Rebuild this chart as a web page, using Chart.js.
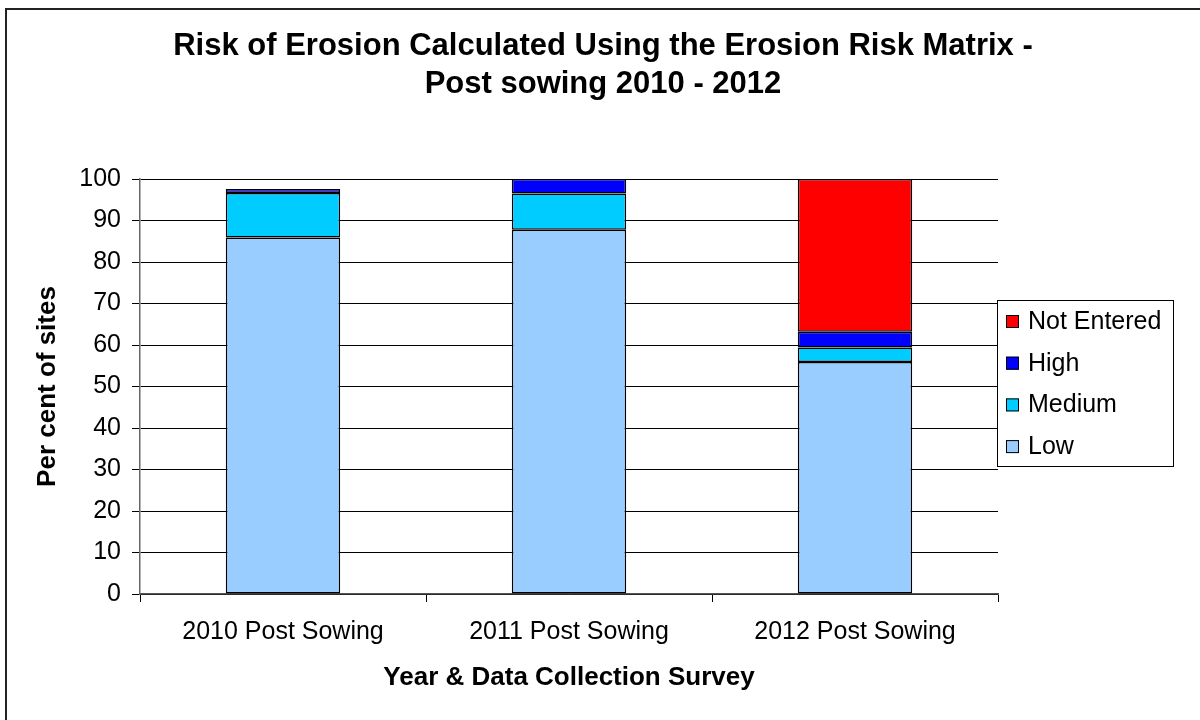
<!DOCTYPE html>
<html>
<head>
<meta charset="utf-8">
<style>
  html, body { margin: 0; padding: 0; background: #fff; }
  #wrap { width: 1200px; height: 720px; position: relative; }
</style>
<script src="https://cdn.jsdelivr.net/npm/chart.js@4"></script>
</head>
<body>
<div id="wrap"><canvas id="c" width="1200" height="720"></canvas></div>
<script>
// Survey categories
const categories = ['2010 Post Sowing', '2011 Post Sowing', '2012 Post Sowing'];

// Percent of sites in each erosion risk class
const lowValues = [85.9, 87.8, 55.9];
const mediumValues = [10.7, 8.7, 3.5];
const highValues = [1.0, 3.5, 3.8];
const notEnteredValues = [0, 0, 36.8];

const titleLines = ['Risk of Erosion Calculated Using the Erosion Risk Matrix -', 'Post sowing 2010 - 2012'];
const yTickValues = [0, 10, 20, 30, 40, 50, 60, 70, 80, 90, 100];

const FONT = 'Arial, "Liberation Sans", sans-serif';

const datasets = [
  { label: 'Low', data: lowValues, backgroundColor: '#99CCFF' },
  { label: 'Medium', data: mediumValues, backgroundColor: '#00CCFF' },
  { label: 'High', data: highValues, backgroundColor: '#0000FF' },
  { label: 'Not Entered', data: notEnteredValues, backgroundColor: '#FF0000' }
].map(d => Object.assign(d, {
  borderColor: '#000',
  borderWidth: 1.5,
  borderSkipped: false,
  barPercentage: 0.4,
  categoryPercentage: 1.0
}));

// Frame, title and boxed legend
const decorations = {
  id: 'decorations',
  beforeDraw(chart) {
    const ctx = chart.ctx;
    ctx.save();
    ctx.fillStyle = '#fff';
    ctx.fillRect(0, 0, chart.width, chart.height);
    ctx.strokeStyle = '#222';
    ctx.lineWidth = 2;
    ctx.strokeRect(6, 9, 1300, 800);
    ctx.restore();
  },
  afterDraw(chart) {
    const ctx = chart.ctx;
    ctx.save();
    // Title
    ctx.fillStyle = '#000';
    ctx.font = 'bold 31px ' + FONT;
    ctx.textAlign = 'center';
    ctx.textBaseline = 'middle';
    titleLines.forEach((line, i) => ctx.fillText(line, 603, 46 + i * 38));

    // Legend box
    const bx = 997, by = 300, bw = 176, bh = 166;
    ctx.fillStyle = '#fff';
    ctx.fillRect(bx, by, bw, bh);
    ctx.strokeStyle = '#000';
    ctx.lineWidth = 1;
    ctx.strokeRect(bx + 0.5, by + 0.5, bw, bh);
    ctx.font = '25px ' + FONT;
    ctx.textAlign = 'left';
    const items = chart.data.datasets.slice().reverse();
    items.forEach((ds, i) => {
      const cy = by + 21 + i * 41.7;
      ctx.fillStyle = ds.backgroundColor;
      ctx.fillRect(bx + 9, cy - 6, 13, 13);
      ctx.strokeStyle = '#000';
      ctx.strokeRect(bx + 9.5, cy - 5.5, 12, 12);
      ctx.fillStyle = '#000';
      ctx.fillText(ds.label, bx + 31, cy + 1);
    });
    ctx.restore();
  }
};

new Chart(document.getElementById('c'), {
  type: 'bar',
  data: { labels: categories, datasets },
  plugins: [decorations],
  options: {
    responsive: false,
    animation: false,
    layout: { padding: { top: 179, right: 202, left: 0, bottom: 0 } },
    plugins: {
      legend: { display: false },
      title: { display: false },
      tooltip: { enabled: false }
    },
    scales: {
      x: {
        stacked: true,
        grid: {
          display: true,
          drawOnChartArea: false,
          drawTicks: true,
          tickLength: 8,
          offset: true,
          color: '#000'
        },
        border: { display: true, color: '#555', width: 1.5 },
        ticks: {
          color: '#000',
          font: { family: FONT, size: 25 },
          padding: 15,
          maxRotation: 0
        },
        title: {
          display: true,
          text: 'Year & Data Collection Survey',
          color: '#000',
          font: { family: FONT, size: 26, weight: 'bold' },
          padding: { top: 0, bottom: 27 }
        },
        afterFit(scale) { scale.height = 126; }
      },
      y: {
        stacked: true,
        min: 0,
        max: 100,
        afterBuildTicks(scale) { scale.ticks = yTickValues.map(v => ({ value: v })); },
        grid: {
          color: '#000',
          lineWidth: 1,
          tickLength: 8
        },
        border: { display: true, color: '#666', width: 1.5 },
        ticks: {
          color: '#000',
          font: { family: FONT, size: 25 },
          padding: 11
        },
        title: {
          display: true,
          text: 'Per cent of sites',
          color: '#000',
          font: { family: FONT, size: 26, weight: 'bold' },
          padding: { top: 32, bottom: 0 }
        },
        afterFit(scale) { scale.width = 140; }
      }
    }
  }
});
</script>
</body>
</html>
